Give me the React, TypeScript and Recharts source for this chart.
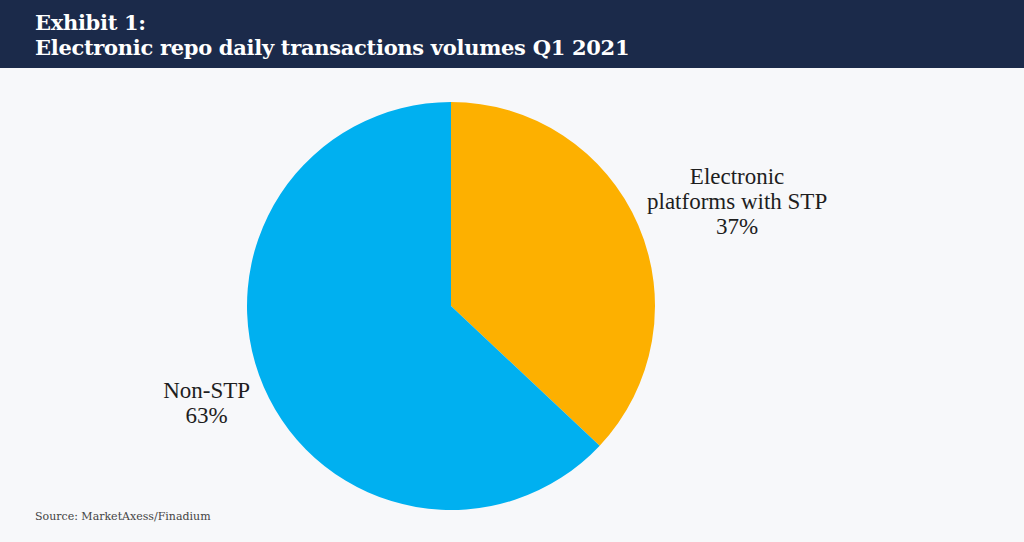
import React from 'react';
import { PieChart, Pie, Cell } from 'recharts';

const segmentNames = ['Electronic platforms with STP', 'Non-STP'];
const segmentLines = [['Electronic', 'platforms with STP', '37%'], ['Non-STP', '63%']];
const segmentValues = [37, 63];
const segmentColors = ['#FDB000', '#00B0F0'];

const data = segmentNames.map((name, i) => ({ name, value: segmentValues[i] }));

const RADIAN = Math.PI / 180;

// label placement: distance from centre along mid angle, plus a small nudge
const labelDist = [315, 276];
const labelNudge = [
    [-3, 20],
    [9, -13],
];

const renderLabel = (props: any) => {
    const { cx, cy, midAngle, index } = props;
    const d = labelDist[index];
    const x = cx + d * Math.cos(-midAngle * RADIAN) + labelNudge[index][0];
    const y = cy + d * Math.sin(-midAngle * RADIAN) + labelNudge[index][1];
    const lines = segmentLines[index];
    const lh = 25;
    const top = y - ((lines.length - 1) * lh) / 2;
    return (
        <text
            key={`lbl-${index}`}
            x={x}
            y={top}
            textAnchor="middle"
            dominantBaseline="central"
            fill="#1e1e1e"
            fontFamily="'Liberation Serif', serif"
            fontSize={23}
        >
            {lines.map((l, i) => (
                <tspan key={i} x={x} y={top + i * lh}>
                    {l}
                </tspan>
            ))}
        </text>
    );
};

export default function App() {
    return (
        <div
            style={{
                position: 'absolute',
                left: 0,
                top: 0,
                width: 1024,
                height: 542,
                background: '#F7F8FA',
                overflow: 'hidden',
            }}
        >
            <div
                style={{
                    position: 'absolute',
                    left: 0,
                    top: 0,
                    width: 1024,
                    height: 68,
                    background: '#1B2A4A',
                    color: '#fff',
                    fontFamily: "'DejaVu Serif', serif",
                    fontWeight: 700,
                    fontSize: 21,
                    letterSpacing: -0.3,
                    lineHeight: '25px',
                    boxSizing: 'border-box',
                    paddingLeft: 35,
                    paddingTop: 10,
                }}
            >
                <div>Exhibit 1:</div>
                <div>Electronic repo daily transactions volumes Q1 2021</div>
            </div>
            <div style={{ position: 'absolute', left: 0, top: 0 }}>
                <PieChart width={1024} height={542} margin={{ top: 0, right: 0, bottom: 0, left: 0 }}>
                    <Pie
                        data={data}
                        dataKey="value"
                        nameKey="name"
                        cx={451}
                        cy={306}
                        outerRadius={204}
                        startAngle={90}
                        endAngle={-270}
                        stroke="none"
                        labelLine={false}
                        label={renderLabel}
                        isAnimationActive={false}
                    >
                        {data.map((d, i) => (
                            <Cell key={d.name} fill={segmentColors[i]} />
                        ))}
                    </Pie>
                </PieChart>
            </div>
            <div
                style={{
                    position: 'absolute',
                    left: 35,
                    top: 510,
                    fontFamily: "'DejaVu Serif', serif",
                    fontSize: 11,
                    color: '#444',
                }}
            >
                Source: MarketAxess/Finadium
            </div>
        </div>
    );
}
